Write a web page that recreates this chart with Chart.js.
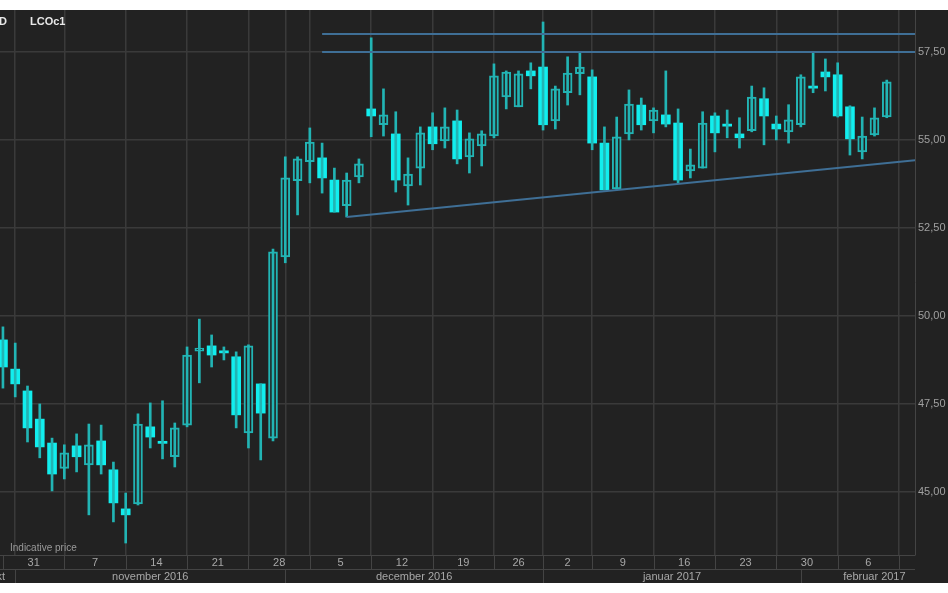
<!DOCTYPE html>
<html>
<head>
<meta charset="utf-8">
<script src="https://cdn.jsdelivr.net/npm/chart.js@4.4.0/dist/chart.umd.min.js"></script>
<style>
  html, body { margin: 0; padding: 0; background: #fff; }
  #wrap { width: 948px; height: 593px; }
</style>
</head>
<body>
<div id="wrap"><canvas id="c" width="948" height="593"></canvas></div>
<script>
// LCOc1 daily candles, 31 Oct 2016 .. 10 Feb 2017 (trading days only)
const opens  = [49.32,48.49,47.87,47.07,46.39,45.67,46.31,45.77,46.45,45.63,44.52,44.66,46.85,46.44,46.00,46.90,49.00,49.15,49.01,48.84,
                46.68,48.07,46.53,51.68,53.84,54.38,54.49,53.86,53.13,53.95,55.88,55.43,55.17,53.69,54.20,55.37,54.97,55.54,54.52,54.83,
                55.11,56.22,55.94,56.96,57.07,55.54,56.34,56.88,56.79,54.91,53.61,55.17,55.99,55.54,55.71,55.48,54.12,54.20,55.68,55.45,
                55.17,55.26,56.17,55.45,55.23,55.43,56.53,56.93,56.85,55.94,54.66,55.14,55.65];
const highs  = [49.69,49.23,48.01,47.50,46.53,46.34,46.65,46.93,46.90,45.85,44.97,47.22,47.53,47.59,46.96,49.12,49.91,49.46,49.12,48.98,
                49.18,48.07,51.90,54.52,54.52,55.34,54.91,54.20,54.06,54.46,57.90,56.45,55.80,54.49,55.37,55.77,55.91,55.85,55.20,55.26,
                57.16,56.96,56.96,57.19,58.35,56.53,57.36,57.47,56.99,55.37,55.65,56.42,56.19,55.91,56.96,55.88,54.74,55.80,55.77,55.85,
                55.63,56.53,56.48,55.68,56.00,56.85,57.47,57.30,57.19,55.97,55.65,55.91,56.70];
const lows   = [47.95,47.70,46.42,45.97,45.03,45.37,45.57,44.35,45.51,44.15,43.55,44.63,46.25,45.94,45.71,46.85,48.10,48.55,48.75,46.82,
                46.25,45.91,46.45,51.51,52.87,53.78,53.49,52.95,52.81,53.78,55.09,55.11,53.52,53.15,53.72,54.72,54.77,54.32,54.06,54.26,
                55.06,55.88,55.94,56.45,55.28,55.31,55.99,56.28,54.72,53.58,53.58,55.00,55.28,55.20,55.37,53.78,53.92,54.20,54.66,55.06,
                54.77,55.23,54.86,55.00,54.91,55.37,56.34,56.39,55.65,54.57,54.46,55.11,55.63];
const closes = [48.55,48.07,46.82,46.28,45.51,46.11,46.00,46.34,45.77,44.69,44.35,46.93,46.56,46.42,46.82,48.89,49.09,48.89,48.99,47.19,
                49.15,47.24,51.82,53.92,54.46,54.94,53.92,52.95,53.86,54.32,55.68,55.71,53.86,54.03,55.20,54.89,55.37,54.46,55.03,55.17,
                56.82,56.93,56.88,56.82,55.43,56.45,56.90,57.07,54.91,53.58,55.09,56.02,55.43,55.85,55.45,53.86,54.29,55.48,55.20,55.42,
                55.06,56.22,55.68,55.31,55.57,56.79,56.50,56.79,55.68,55.03,55.11,55.63,56.65];

// week grid (candle index of first day of each week) and labels
const weekStarts = [0, 5, 10, 15, 20, 25, 30, 35, 40, 44, 48, 53, 58, 63, 68, 73];
const weekLabels = ['31', '7', '14', '21', '28', '5', '12', '19', '26', '2', '9', '16', '23', '30', '6'];
const monthStarts = [-3, 1, 23, 44, 65, 78];
const monthLabels = ['okt', 'november 2016', 'december 2016', 'januar 2017', 'februar 2017'];
const gridIdx = [1, 5, 10, 15, 20, 23, 25, 30, 35, 40, 44, 48, 53, 58, 63, 68, 73];
const yTicks = [45, 47.5, 50, 52.5, 55, 57.5];

// drawn trend lines (index, price)
const resistHigh = [{x: 26, y: 58.01}, {x: 75, y: 58.01}];
const resistLow  = [{x: 26, y: 57.50}, {x: 75, y: 57.50}];
const support    = [{x: 28, y: 52.81}, {x: 75, y: 54.45}];

const FILL = '#12eeee', EDGE = '#22b4b4', BG = '#222222';

const wicks = [], upBodies = [], downBodies = [];
opens.forEach((o, i) => {
  wicks.push({x: i, y: [lows[i], highs[i]]});
  let c = closes[i];
  if (Math.abs(c - o) < 0.06) c = o + (c >= o ? 0.06 : -0.06);
  if (closes[i] >= o) upBodies.push({x: i, y: [o, c]});
  else downBodies.push({x: i, y: [c, o]});
});

const line = (data) => ({type: 'line', data, borderColor: '#3f6f96', borderWidth: 2,
  pointRadius: 0, fill: false});

const frame = {
  id: 'frame',
  beforeDraw(chart) {
    const ctx = chart.ctx;
    ctx.save();
    ctx.fillStyle = BG;
    ctx.fillRect(0, 10, chart.width, 573);
    ctx.restore();
  },
  afterDraw(chart) {
    const ctx = chart.ctx, xs = chart.scales.x, area = chart.chartArea;
    const top = area.bottom, mid = top + 14, bot = 583;
    const px = v => xs.getPixelForValue(v);
    ctx.save();
    ctx.strokeStyle = '#444';
    ctx.lineWidth = 1;
    ctx.beginPath();
    ctx.moveTo(0, top + 0.5); ctx.lineTo(area.right, top + 0.5);
    ctx.moveTo(0, mid + 0.5); ctx.lineTo(area.right, mid + 0.5);
    weekStarts.forEach(i => { const x = Math.round(px(i)) + 0.5; if (x < area.right) { ctx.moveTo(x, top); ctx.lineTo(x, mid); } });
    monthStarts.forEach(i => { const x = Math.round(px(i)) + 0.5; if (x > 0 && x < area.right) { ctx.moveTo(x, mid); ctx.lineTo(x, bot); } });
    ctx.stroke();
    ctx.fillStyle = '#a8a8a8';
    ctx.font = '11px "Liberation Sans", Arial, sans-serif';
    ctx.textAlign = 'center';
    ctx.textBaseline = 'middle';
    weekLabels.forEach((t, k) => ctx.fillText(t, px((weekStarts[k] + weekStarts[k + 1]) / 2), top + 7.5));
    monthLabels.forEach((t, k) => {
      const a = Math.max(px(monthStarts[k]), -20), b = Math.min(px(monthStarts[k + 1]), chart.width);
      ctx.fillText(t, (a + b) / 2, mid + 8);
    });
    ctx.textAlign = 'left';
    ctx.font = '10px "Liberation Sans", Arial, sans-serif';
    ctx.fillStyle = '#9a9a9a';
    ctx.fillText('Indicative price', 10, top - 7);
    ctx.font = 'bold 11px "Liberation Sans", Arial, sans-serif';
    ctx.fillStyle = '#e8e8e8';
    ctx.fillText('ID', -4, 22);
    ctx.fillText('LCOc1', 30, 22);
    ctx.restore();
  }
};

new Chart(document.getElementById('c'), {
  type: 'bar',
  data: {
    datasets: [
      line(resistHigh), line(resistLow), line(support),
      {data: wicks, backgroundColor: EDGE, barThickness: 2, borderWidth: 0},
      {data: downBodies, backgroundColor: FILL, borderColor: FILL, borderWidth: 0, barThickness: 9},
      {data: upBodies, backgroundColor: BG, borderColor: EDGE, borderWidth: 2, borderSkipped: false, barThickness: 9}
    ]
  },
  options: {
    responsive: false,
    animation: false,
    grouped: false,
    layout: {padding: {top: 10, bottom: 38, left: 0, right: 0}},
    plugins: {legend: {display: false}, tooltip: {enabled: false}},
    scales: {
      x: {
        type: 'linear', min: -0.24, max: 74.3, offset: false,
        afterBuildTicks: s => { s.ticks = gridIdx.map(v => ({value: v})); },
        afterFit: s => { s.height = 0; },
        ticks: {display: false},
        border: {display: false},
        grid: {color: '#3a3a3a', lineWidth: 1.5, drawTicks: false, offset: false}
      },
      y: {
        position: 'right', min: 43.21, max: 58.69,
        afterBuildTicks: s => { s.ticks = yTicks.map(v => ({value: v})); },
        afterFit: s => { s.width = 33; },
        ticks: {color: '#a0a0a0', padding: 3, font: {size: 11, family: '"Liberation Sans", Arial, sans-serif'},
                callback: v => v.toFixed(2).replace('.', ',')},
        border: {color: '#444'},
        grid: {color: '#3a3a3a', lineWidth: 1.5, drawTicks: false}
      }
    }
  },
  plugins: [frame]
});
</script>
</body>
</html>
